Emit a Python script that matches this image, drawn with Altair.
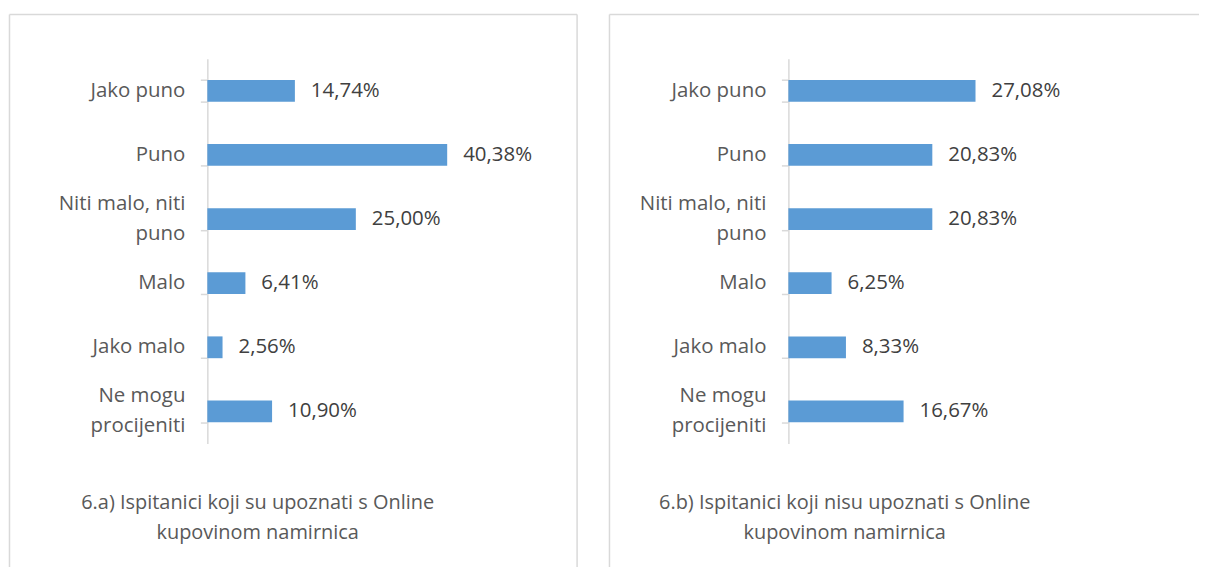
import altair as alt
import pandas as pd

categories = ["Jako puno", "Puno", "Niti malo, niti puno", "Malo", "Jako malo", "Ne mogu procijeniti"]
label_lines = {
    "Niti malo, niti puno": ["Niti malo, niti", "puno"],
    "Ne mogu procijeniti": ["Ne mogu", "procijeniti"],
}
values_a = [14.74, 40.38, 25.00, 6.41, 2.56, 10.90]
values_b = [27.08, 20.83, 20.83, 6.25, 8.33, 16.67]
title_a = ["6.a) Ispitanici koji su upoznati s Online", "kupovinom namirnica"]
title_b = ["6.b) Ispitanici koji nisu upoznati s Online", "kupovinom namirnica"]

FONT = "Open Sans"
LABEL_SIZE = 20.5
VALUE_SIZE = 20.5
TITLE_SIZE = 20
BAR = "#5b9bd5"
BORDER = "#d9d9d9"


def panel(values, title, xmax, width, left, right, title_x):
    df = pd.DataFrame({"cat": categories, "val": values})
    df["txt"] = [f"{v:.2f}".replace(".", ",") + "%" for v in values]
    df["lab"] = ["\n".join(label_lines.get(c, [c])) for c in categories]
    df["two"] = [c in label_lines for c in categories]
    H = 386
    y = alt.Y("cat:N", sort=categories, title=None,
              scale=alt.Scale(paddingInner=0.66, paddingOuter=0.33),
              axis=alt.Axis(labels=False,
                            tickBand="extent", tickSize=7, tickColor=BORDER,
                            domainColor=BORDER, domainWidth=1.5, tickWidth=1.5))
    x = alt.X("val:Q", title=None, axis=None, scale=alt.Scale(domain=[0, xmax]))
    bars = alt.Chart(df).mark_bar(color=BAR).encode(x=x, y=y)
    texts = alt.Chart(df).mark_text(align="left", dx=16, font=FONT, fontSize=VALUE_SIZE,
                                    color="#404040").encode(x=x, y=y, text="txt:N")
    lab1 = alt.Chart(df).transform_filter("!datum.two").mark_text(
        align="right", baseline="middle", font=FONT, fontSize=LABEL_SIZE,
        color="#595959").encode(x=alt.value(-22), y=y, text="lab:N")
    lab2 = alt.Chart(df).transform_filter("datum.two").mark_text(
        align="right", baseline="middle", font=FONT, fontSize=LABEL_SIZE,
        color="#595959", lineBreak="\n", lineHeight=30, dy=-15).encode(
        x=alt.value(-22), y=y, text="lab:N")
    one = pd.DataFrame({"t": ["\n".join(title)]})
    ttl = alt.Chart(one).mark_text(align="center", baseline="alphabetic", font=FONT,
                                   fontSize=TITLE_SIZE, color="#595959", lineBreak="\n",
                                   lineHeight=30).encode(
        x=alt.value(title_x), y=alt.value(452), text="t:N")
    top = -44.5
    bottom = 510
    layers = [bars, texts, lab1, lab2, ttl]
    layers.append(alt.Chart(one).mark_rule(color=BORDER, strokeWidth=1.5).encode(
        x=alt.value(left), x2=alt.value(right), y=alt.value(top)))
    layers.append(alt.Chart(one).mark_rule(color=BORDER, strokeWidth=1.5).encode(
        x=alt.value(left), y=alt.value(top), y2=alt.value(bottom)))
    if right < 400:
        layers.append(alt.Chart(one).mark_rule(color=BORDER, strokeWidth=1.5).encode(
            x=alt.value(right), y=alt.value(top), y2=alt.value(bottom)))
    return alt.layer(*layers).properties(width=width, height=H)


left_panel = panel(values_a, title_a, 50, 298, -198.5, 371, 50.5)
right_panel = panel(values_b, title_b, 45, 312, -179.5, 412, 56.5)

chart = alt.hconcat(left_panel, right_panel, spacing=30).properties(
    padding={"left": 0, "top": 4, "right": 0, "bottom": 0},
    background="white"
).configure_view(stroke="transparent", strokeWidth=0)

chart.save("out.html", embed_options={"renderer": "svg", "actions": False})
